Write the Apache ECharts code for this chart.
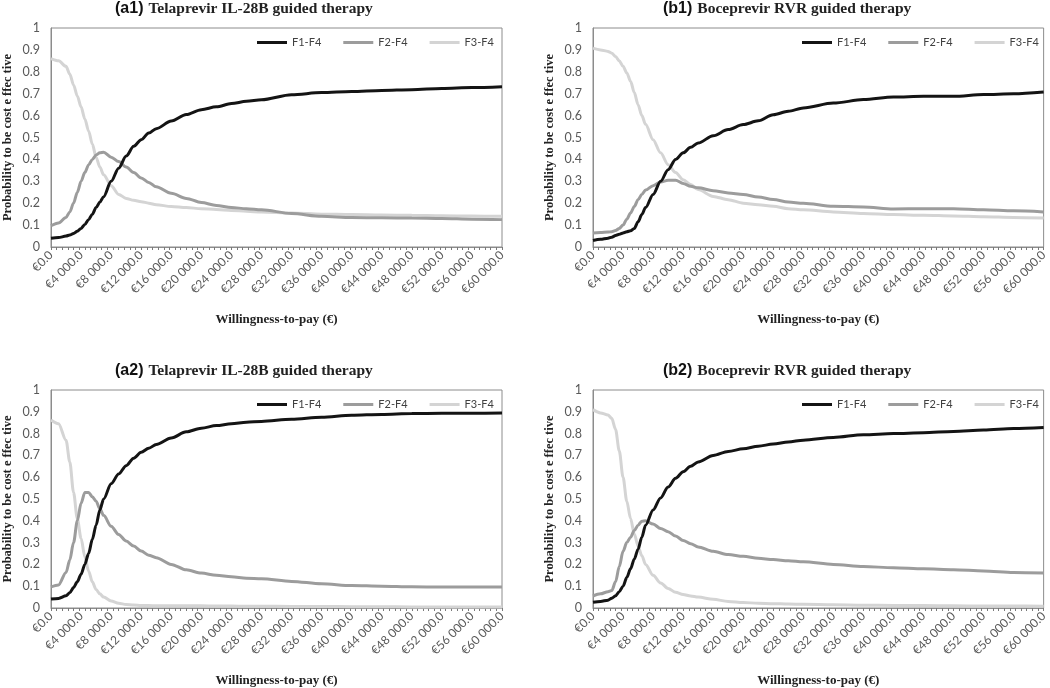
<!DOCTYPE html>
<html>
<head>
<meta charset="utf-8">
<script src="https://cdn.jsdelivr.net/npm/echarts@6/dist/echarts.min.js"></script>
<style>
html,body{margin:0;padding:0;background:#fff;}
#chart{width:1050px;height:688px;}
</style>
</head>
<body>
<div id="chart"></div>
<script>
// Willingness-to-pay sample points (€)
const wtp = [0,1000,2000,2500,3000,3500,4000,4500,5000,5500,6000,6500,7000,8000,9000,10000,11000,12000,13000,14000,16000,18000,20000,22000,24000,26000,28000,32000,36000,40000,44000,48000,52000,56000,60000];

const seriesNames = ['F1-F4','F2-F4','F3-F4'];

// (a1) Telaprevir IL-28B guided therapy
const a1_F1 = [0.04,0.043,0.05,0.055,0.062,0.072,0.085,0.103,0.125,0.15,0.18,0.205,0.23,0.30,0.36,0.415,0.46,0.49,0.52,0.54,0.575,0.605,0.627,0.64,0.655,0.665,0.672,0.695,0.705,0.71,0.715,0.718,0.724,0.728,0.732];
const a1_F2 = [0.097,0.11,0.135,0.16,0.2,0.25,0.30,0.34,0.375,0.40,0.42,0.43,0.433,0.41,0.39,0.365,0.34,0.315,0.295,0.275,0.245,0.222,0.203,0.19,0.18,0.175,0.17,0.153,0.14,0.135,0.133,0.132,0.13,0.127,0.125];
const a1_F3 = [0.86,0.85,0.825,0.79,0.74,0.69,0.64,0.585,0.53,0.47,0.41,0.365,0.33,0.28,0.24,0.222,0.213,0.207,0.2,0.193,0.185,0.18,0.175,0.171,0.167,0.163,0.16,0.155,0.15,0.148,0.146,0.145,0.143,0.141,0.14];

// (b1) Boceprevir RVR guided therapy
const b1_F1 = [0.03,0.035,0.04,0.045,0.052,0.058,0.064,0.07,0.074,0.085,0.115,0.148,0.18,0.24,0.30,0.353,0.40,0.43,0.455,0.475,0.508,0.536,0.559,0.576,0.604,0.62,0.635,0.657,0.673,0.685,0.688,0.688,0.696,0.70,0.708];
const b1_F2 = [0.064,0.066,0.068,0.07,0.075,0.085,0.10,0.127,0.155,0.185,0.216,0.24,0.26,0.28,0.297,0.305,0.305,0.29,0.277,0.27,0.257,0.247,0.24,0.228,0.217,0.205,0.2,0.186,0.183,0.174,0.175,0.175,0.17,0.165,0.16];
const b1_F3 = [0.908,0.9,0.893,0.885,0.87,0.85,0.825,0.795,0.757,0.705,0.65,0.6,0.56,0.49,0.43,0.376,0.34,0.307,0.285,0.262,0.231,0.216,0.2,0.193,0.186,0.175,0.17,0.16,0.153,0.148,0.145,0.142,0.138,0.135,0.132];

// (a2) Telaprevir IL-28B guided therapy
const a2_F1 = [0.041,0.044,0.056,0.07,0.094,0.12,0.155,0.2,0.25,0.315,0.38,0.45,0.5,0.57,0.615,0.653,0.687,0.714,0.733,0.75,0.78,0.808,0.825,0.837,0.845,0.852,0.856,0.866,0.875,0.884,0.888,0.892,0.893,0.893,0.894];
const a2_F2 = [0.097,0.106,0.163,0.22,0.30,0.40,0.48,0.53,0.53,0.51,0.49,0.455,0.425,0.375,0.337,0.307,0.284,0.261,0.242,0.231,0.2,0.175,0.16,0.15,0.143,0.137,0.134,0.122,0.111,0.103,0.1,0.097,0.096,0.096,0.096];
const a2_F3 = [0.862,0.845,0.77,0.67,0.53,0.41,0.32,0.235,0.17,0.12,0.085,0.065,0.05,0.032,0.022,0.016,0.014,0.012,0.011,0.01,0.01,0.01,0.01,0.009,0.009,0.008,0.008,0.007,0.007,0.006,0.006,0.005,0.005,0.005,0.005];

// (b2) Boceprevir RVR guided therapy
const b2_F1 = [0.026,0.03,0.036,0.045,0.056,0.075,0.10,0.14,0.18,0.225,0.27,0.325,0.38,0.45,0.505,0.555,0.595,0.625,0.65,0.67,0.70,0.718,0.73,0.742,0.752,0.762,0.77,0.782,0.795,0.80,0.804,0.81,0.816,0.823,0.828];
const b2_F2 = [0.055,0.065,0.075,0.08,0.12,0.19,0.26,0.30,0.325,0.355,0.38,0.398,0.40,0.385,0.365,0.35,0.33,0.31,0.295,0.28,0.26,0.245,0.237,0.228,0.222,0.217,0.212,0.2,0.19,0.185,0.18,0.176,0.17,0.163,0.16];
const b2_F3 = [0.91,0.895,0.885,0.87,0.82,0.72,0.6,0.49,0.41,0.34,0.285,0.24,0.2,0.15,0.115,0.09,0.072,0.062,0.055,0.05,0.04,0.03,0.025,0.022,0.02,0.018,0.017,0.015,0.013,0.012,0.011,0.01,0.009,0.009,0.008];

const panelLabels = ['(a1)','(b1)','(a2)','(b2)'];
const panelTitles = ['Telaprevir IL-28B guided therapy','Boceprevir RVR guided therapy','Telaprevir IL-28B guided therapy','Boceprevir RVR guided therapy'];
const panelData = [[a1_F1,a1_F2,a1_F3],[b1_F1,b1_F2,b1_F3],[a2_F1,a2_F2,a2_F3],[b2_F1,b2_F2,b2_F3]];
const yAxisTitle = 'Probability to be cost e ffec tive';
const xAxisTitle = 'Willingness-to-pay (€)';

// layout
const grids = [
  {left:49, top:28, width:453, height:219},
  {left:593, top:28, width:452, height:219},
  {left:49, top:390, width:453, height:219},
  {left:593, top:390, width:452, height:219}
];
const titlePos = [{left:115,top:0},{left:663,top:0},{left:115,top:362},{left:663,top:362}];
const legendPos = [{left:257,top:37},{left:802,top:37},{left:257,top:399},{left:802,top:399}];
const lineColors = ['#141414','#9c9c9c','#d4d4d4'];

function fmtEuro(v){
  if (v === 0) return '€0.0';
  return '€' + (v/1000) + ' 000.0';
}

const option = {
  backgroundColor:'#fff',
  animation:false,
  title: panelLabels.map((lab,i)=>({
    text:'{a|'+lab+'} {b|'+panelTitles[i]+'}',
    left:titlePos[i].left, top:titlePos[i].top, padding:0,
    textStyle:{rich:{
      a:{fontFamily:'Liberation Sans',fontSize:16,color:'#111'},
      b:{fontFamily:'Liberation Serif',fontWeight:'bold',fontSize:15.5,color:'#222'}
    }}
  })),
  legend: grids.map((g,i)=>({
    data:seriesNames, left:legendPos[i].left, top:legendPos[i].top, padding:0,
    icon:'rect', itemWidth:30, itemHeight:3, itemGap:22,
    textStyle:{fontFamily:'Lato',fontSize:11,color:'#404040'}
  })),
  grid: grids.map(g=>({left:g.left,top:g.top,width:g.width,height:g.height,show:true,borderColor:'#8c8c8c',borderWidth:1,backgroundColor:'#fff'})),
  xAxis: [],
  yAxis: grids.map((g,i)=>({
    type:'value', gridIndex:i, min:0, max:1, interval:0.1,
    name:yAxisTitle, nameLocation:'middle', nameGap:37,
    nameTextStyle:{fontFamily:'Liberation Serif',fontWeight:'bold',fontSize:12.5,color:'#222'},
    axisLine:{show:true,lineStyle:{color:'#8c8c8c'}},
    axisTick:{show:false},
    splitLine:{show:false},
    axisLabel:{fontFamily:'Lato',fontSize:12.5,color:'#595959',margin:11,
      formatter:v=> (Math.round(v*10)/10).toString()}
  })),
  series:[]
};

grids.forEach((g,i)=>{
  option.xAxis.push({
    type:'value', gridIndex:i, min:0, max:60000, interval:4000,
    name:xAxisTitle, nameLocation:'middle', nameGap:66,
    nameTextStyle:{fontFamily:'Liberation Serif',fontWeight:'bold',fontSize:13,color:'#222'},
    axisLine:{show:true,lineStyle:{color:'#8c8c8c'}},
    axisTick:{show:false},
    splitLine:{show:false},
    axisLabel:{rotate:45,fontFamily:'Lato',fontSize:12,color:'#595959',margin:6,
      formatter:fmtEuro, showMaxLabel:true, showMinLabel:true}
  });
  // minor tick ruler
  option.xAxis.push({
    type:'value', gridIndex:i, min:0, max:60000, interval:750, position:'bottom',
    axisLine:{show:false}, axisLabel:{show:false}, splitLine:{show:false},
    axisTick:{show:true,length:3,lineStyle:{color:'#7a7a7a'}}
  });
  panelData[i].forEach((vals,k)=>{
    option.series.push({
      name:seriesNames[k], type:'line', xAxisIndex:2*i, yAxisIndex:i,
      data: wtp.map((x,j)=>[x,vals[j]]),
      showSymbol:false, smooth:0.3, smoothMonotone:'x',
      lineStyle:{color:lineColors[k],width:3},
      itemStyle:{color:lineColors[k]},
      z: 3-k
    });
  });
});

const chart = echarts.init(document.getElementById('chart'),null,{renderer:'canvas'});
chart.setOption(option);
</script>
</body>
</html>
